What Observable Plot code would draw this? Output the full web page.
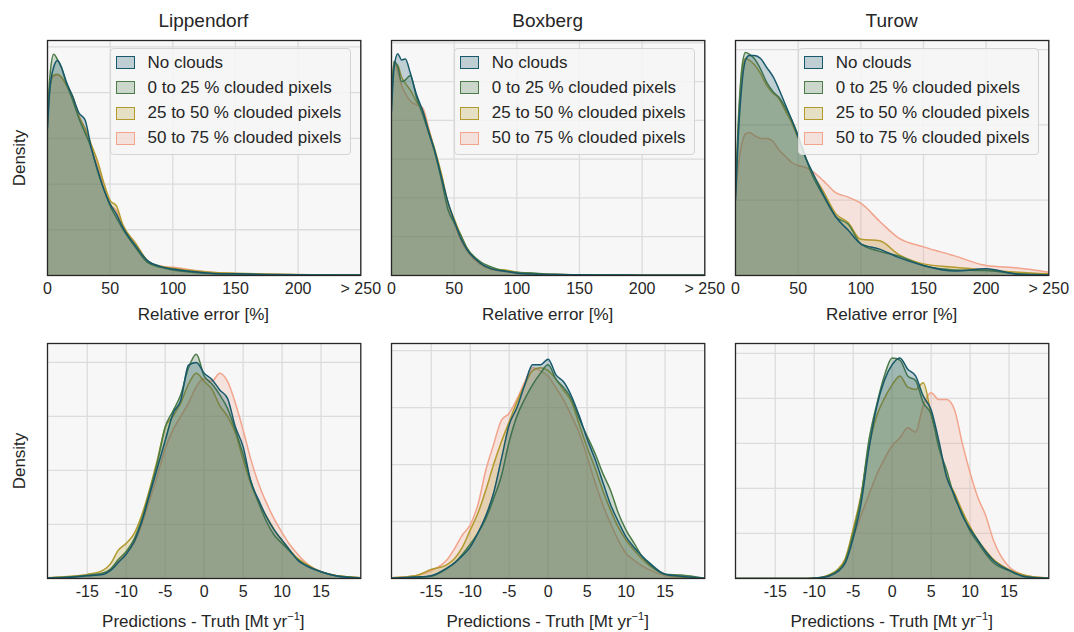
<!DOCTYPE html>
<html><head><meta charset="utf-8">
<script src="https://cdn.jsdelivr.net/npm/d3@7"></script>
<script src="https://cdn.jsdelivr.net/npm/@observablehq/plot@0.6"></script>
<style>
body{margin:0;background:#fff;font-family:"Liberation Sans",Arial,sans-serif;color:#262626}
#chart{position:relative;width:1074px;height:632px;overflow:hidden;background:#fff}
.panel{position:absolute}
.panel svg{max-width:none;overflow:visible}
.title{position:absolute;font-size:19px;transform:translate(-50%,-50%);white-space:nowrap}
.xlabel{position:absolute;font-size:17px;transform:translate(-50%,-50%);white-space:nowrap}
.ylabel{position:absolute;font-size:17px;transform:translate(-50%,-50%) rotate(-90deg);white-space:nowrap}
.legend{position:absolute;width:241px;height:107px;box-sizing:border-box;background:rgba(246,246,246,0.85);border:1px solid #d4d4d4;border-radius:4px}
.item{position:absolute;left:37px;height:20px;line-height:20px;font-size:17px;white-space:nowrap}
.sw{position:absolute;left:5px;width:19px;height:13px;box-sizing:border-box;border:1.6px solid}
sup{font-size:11px;line-height:0}
</style>
</head><body><div id="chart"></div>
<script>
// ---------- categories & labels ----------
const sites = ["Lippendorf", "Boxberg", "Turow"];
const seriesNames = ["No clouds", "0 to 25 % clouded pixels", "25 to 50 % clouded pixels", "50 to 75 % clouded pixels"];
const seriesColors = ["#17596b", "#4b7b47", "#b39a2f", "#f2a48c"];

// ---------- top row: relative error [%] ----------
const relX = [0, 2, 5, 8, 11, 15, 20, 25, 30, 35, 40, 45, 50, 55, 60, 70, 80, 90, 100, 115, 130, 150, 175, 200, 225, 250];
const relTicks = [0, 50, 100, 150, 200, 250];
const relTickLabels = ["0", "50", "100", "150", "200", "> 250"];
// density (x 1e-3) per series: No clouds, 0-25, 25-50, 50-75
const relLippendorf = [
  [16.1, 20.5, 22.8, 23.5, 22.8, 21.2, 19.6, 17.8, 17.0, 13.9, 11.6, 9.4, 7.8, 6.7, 5.3, 3.3, 1.6, 1.0, 0.7, 0.43, 0.25, 0.18, 0.1, 0.07, 0.05, 0.04],
  [17.6, 21.9, 24.2, 23.6, 22.8, 21.0, 19.2, 17.2, 15.6, 13.9, 11.4, 9.4, 7.6, 6.3, 5.1, 3.1, 1.4, 0.9, 0.6, 0.36, 0.22, 0.15, 0.09, 0.06, 0.04, 0.03],
  [16.8, 20.8, 21.9, 22.0, 21.7, 20.8, 19.6, 17.4, 16.1, 14.3, 12.5, 10.1, 8.2, 7.6, 5.6, 3.6, 1.6, 1.0, 0.8, 0.54, 0.36, 0.25, 0.15, 0.1, 0.07, 0.05],
  [16.5, 20.8, 21.8, 21.9, 21.7, 20.9, 19.6, 17.6, 15.9, 14.1, 12.0, 9.8, 7.8, 7.1, 5.4, 3.4, 1.5, 1.0, 0.9, 0.6, 0.36, 0.2, 0.12, 0.08, 0.05, 0.04]
];
const relBoxberg = [
  [21.2, 26.7, 28.6, 27.8, 27.9, 26.1, 23.3, 21.2, 18.4, 15.8, 12.6, 9.5, 7.1, 4.9, 3.4, 1.7, 0.85, 0.55, 0.3, 0.17, 0.13, 0.09, 0.06, 0.04, 0.02, 0.02],
  [22.4, 27.6, 26.9, 25.0, 25.2, 25.8, 22.9, 20.7, 18.2, 15.6, 12.2, 8.5, 6.8, 5.3, 3.6, 1.9, 1.07, 0.6, 0.43, 0.3, 0.15, 0.1, 0.06, 0.04, 0.02, 0.02],
  [22.0, 27.4, 27.1, 25.6, 24.8, 23.9, 22.4, 21.2, 18.6, 16.0, 13.0, 9.4, 7.3, 5.3, 3.6, 1.7, 0.85, 0.73, 0.43, 0.2, 0.13, 0.09, 0.06, 0.04, 0.02, 0.02],
  [22.4, 27.6, 26.3, 24.5, 23.5, 22.5, 22.0, 21.6, 18.8, 15.8, 12.8, 9.2, 6.8, 4.6, 3.2, 1.5, 0.75, 0.55, 0.3, 0.17, 0.13, 0.09, 0.06, 0.04, 0.02, 0.02]
];
const relTurow = [
  [5.0, 8.9, 12.6, 14.3, 14.6, 14.6, 14.4, 13.8, 13.2, 12.3, 11.3, 10.3, 9.2, 8.0, 7.1, 5.4, 3.9, 3.0, 2.1, 1.75, 1.2, 0.66, 0.29, 0.44, 0.09, 0.04],
  [5.5, 9.8, 13.7, 14.8, 14.7, 14.4, 13.7, 12.8, 12.2, 11.8, 11.1, 10.3, 9.3, 8.1, 6.9, 5.3, 3.9, 3.4, 2.1, 1.6, 1.3, 0.66, 0.37, 0.33, 0.11, 0.04],
  [5.3, 9.3, 13.3, 14.4, 14.3, 14.0, 13.4, 12.6, 12.1, 11.7, 10.9, 10.1, 9.1, 8.0, 7.0, 5.6, 4.1, 3.5, 2.4, 2.3, 1.4, 0.77, 0.55, 0.37, 0.22, 0.11],
  [5.2, 7.1, 8.7, 9.4, 9.5, 9.3, 9.1, 9.1, 8.9, 8.3, 7.9, 7.5, 7.3, 7.2, 7.0, 6.3, 5.5, 5.2, 4.8, 3.6, 2.5, 1.9, 1.3, 0.66, 0.5, 0.22]
];

// ---------- bottom row: predictions - truth [Mt/yr] ----------
const diffX = [-20, -17, -15, -13, -12, -11, -10, -9, -8, -7, -6, -5, -4, -3, -2, -1, 0, 1, 2, 3, 4, 5, 6, 7, 8, 9, 10, 11, 12, 13, 15, 17, 20];
const diffTicks = [-15, -10, -5, 0, 5, 10, 15];
const diffTickLabels = ["-15", "-10", "-5", "0", "5", "10", "15"];
const diffLippendorf = [
  [0.2, 0.5, 1.0, 1.5, 3.0, 6.0, 9.0, 13.5, 21, 31, 41, 51, 61, 66, 79, 80, 76, 73.7, 69.8, 66.7, 56.2, 48.8, 35.8, 29.0, 22.8, 17.9, 14.2, 10.5, 6.8, 4.9, 2.5, 0.9, 0.1],
  [0.2, 0.6, 1.2, 2.0, 3.5, 7, 10, 14.5, 22, 32, 43, 56, 62, 68, 78, 83, 75, 72, 68, 63, 55, 46, 36, 28, 21, 16, 13, 10, 7, 5, 2.5, 1.0, 0.3],
  [0.3, 0.8, 1.5, 3.0, 5.5, 10.5, 13, 16.5, 23.5, 33, 44, 56, 60, 65, 72, 76, 73, 70, 64, 60, 54, 44, 35, 28, 23, 18, 14, 10.5, 7.5, 5.5, 2.5, 1.0, 0.3],
  [0.2, 0.5, 1.0, 1.8, 3.5, 6.5, 9.5, 13, 20, 29, 38, 48, 55, 60, 65, 71, 74, 73, 76, 73, 65, 55, 44, 35, 28, 22, 17, 12.5, 9, 6, 2.5, 1.0, 0.3]
];
const diffBoxberg = [
  [0.1, 0.5, 1.0, 3.6, 5.5, 8, 11, 16, 22, 30, 42, 54, 60, 68, 75, 75, 77, 71.5, 69, 64, 57, 49, 42, 34, 26, 20, 14.6, 11, 8, 5.5, 1.5, 0.8, 0.1],
  [0.1, 0.4, 0.8, 3.5, 5.5, 8.5, 12, 16, 21, 28, 36, 48, 57, 63, 68, 72, 75, 70, 67, 63, 56, 50, 44, 37, 31, 23, 17, 12.5, 8, 5, 1.5, 1.2, 0.1],
  [0.3, 1.0, 3.2, 4.8, 7, 11, 17, 23, 31, 40, 48, 55, 62, 68, 73, 74, 73, 70, 66, 62, 54, 46, 39, 31, 24, 18, 13.5, 10, 7, 4.5, 1.5, 0.6, 0.1],
  [0.3, 1.0, 2.8, 6.5, 10.5, 15.3, 18.8, 26, 38, 47, 55.5, 58, 63, 69, 74, 73, 71, 67, 62.6, 57, 51, 42.7, 34, 26, 19.3, 13.5, 8.8, 6.5, 4.5, 3, 1.0, 0.3, 0]
];
const diffTurow = [
  [0, 0, 0, 0, 0, 0, 0.1, 0.4, 1.2, 3, 7, 18, 33, 57, 76, 88, 95, 98, 93, 90, 81, 75, 61, 45, 37, 28, 22, 17, 12, 8, 3.7, 0.8, 0.1],
  [0, 0, 0, 0, 0, 0, 0.2, 0.5, 1.5, 3.5, 8, 20, 36, 61, 77, 90, 98, 97, 90, 88, 78, 73, 58, 48, 36, 29, 21, 16, 11, 7, 3.5, 1.0, 0.1],
  [0, 0, 0, 0, 0, 0, 0.2, 0.6, 1.8, 4, 9, 22, 37, 58, 72, 80, 86, 90, 85, 84, 87, 73, 60, 45, 38, 30, 23, 17, 12.5, 8.5, 4.0, 1.5, 0.2],
  [0, 0, 0, 0, 0, 0, 0.1, 0.3, 1.2, 3.5, 8.5, 18, 28, 37, 46, 53, 59, 62.5, 67, 65, 77, 82.5, 79.5, 79.5, 75, 60, 47, 36, 28, 17, 5.2, 1.5, 0.2]
];

// visible density range of each panel (x 1e-3) and grid step
const relYMax = [25.7, 30.3, 15.6];
const diffYMax = [87, 82.5, 104.4];
const relYStep = 5;
const diffYStep = 20;

// ---------- layout ----------
const chart = document.getElementById("chart");
const colLeft = [46.7, 391, 735];
const pw = 313.3, ph = 235;
const rowTop = [40, 343.3];
const ML = 40, MR = 40, MT = 20, MB = 45;

function el(cls, html, style) {
  const d = document.createElement("div");
  d.className = cls; d.innerHTML = html;
  Object.assign(d.style, style);
  chart.appendChild(d);
  return d;
}

function panel(col, row, xs, series, domain, ticks, tickLabels, yMax, yStep) {
  const marks = [
    Plot.frame({fill: "#f7f7f7", stroke: "none"}),
    Plot.ruleX(ticks, {stroke: "#dcdcdc", strokeWidth: 1.3}),
    Plot.ruleY(d3.range(yStep, yMax, yStep), {stroke: "#dcdcdc", strokeWidth: 1.3})
  ];
  for (let i = series.length - 1; i >= 0; i--) {
    const rows = xs.map((x, j) => ({x, y: series[i][j]}));
    marks.push(Plot.areaY(rows, {x: "x", y: "y", fill: seriesColors[i], fillOpacity: 0.25, curve: "monotone-x", clip: true}));
    marks.push(Plot.lineY(rows, {x: "x", y: "y", stroke: seriesColors[i], strokeWidth: 1.5, curve: "monotone-x", clip: true}));
  }
  marks.push(Plot.frame({stroke: "#262626", strokeWidth: 1.3}));
  const svg = Plot.plot({
    width: ML + pw + MR, height: MT + ph + MB,
    marginLeft: ML, marginRight: MR, marginTop: MT, marginBottom: MB,
    style: {background: "transparent", fontSize: "16px", fontFamily: '"Liberation Sans", Arial, sans-serif', color: "#262626", overflow: "visible"},
    x: {domain, ticks, tickFormat: (d) => tickLabels[ticks.indexOf(d)], tickSize: 0, tickPadding: 7, label: null},
    y: {domain: [0, yMax], axis: null},
    marks
  });
  const wrap = el("panel", "", {left: (colLeft[col] - ML) + "px", top: (rowTop[row] - MT) + "px"});
  wrap.appendChild(svg);
}

sites.forEach((site, c) => {
  panel(c, 0, relX, [relLippendorf, relBoxberg, relTurow][c], [0, 250], relTicks, relTickLabels, relYMax[c], relYStep);
  panel(c, 1, diffX, [diffLippendorf, diffBoxberg, diffTurow][c], [-20.1, 20.1], diffTicks, diffTickLabels, diffYMax[c], diffYStep);
  const cx = colLeft[c] + pw / 2;
  el("title", site, {left: cx + "px", top: "21px"});
  el("xlabel", "Relative error [%]", {left: cx + "px", top: "315px"});
  el("xlabel", "Predictions - Truth [Mt yr<sup>\u22121</sup>]", {left: cx + "px", top: "622px"});
  // legend
  const lg = el("legend", "", {left: (colLeft[c] + pw - 9.5 - 241) + "px", top: "48px"});
  seriesNames.forEach((name, i) => {
    const cy = 13.5 + i * 25.3;
    const sw = document.createElement("div");
    sw.className = "sw";
    const col = d3.color(seriesColors[i]); col.opacity = 0.25;
    Object.assign(sw.style, {top: (cy - 6.5) + "px", borderColor: seriesColors[i], background: col.formatRgb()});
    lg.appendChild(sw);
    const t = document.createElement("div");
    t.className = "item"; t.textContent = name;
    t.style.top = (cy - 10) + "px";
    lg.appendChild(t);
  });
});
el("ylabel", "Density", {left: "20px", top: "157.5px"});
el("ylabel", "Density", {left: "20px", top: "461px"});
</script>
</body></html>
